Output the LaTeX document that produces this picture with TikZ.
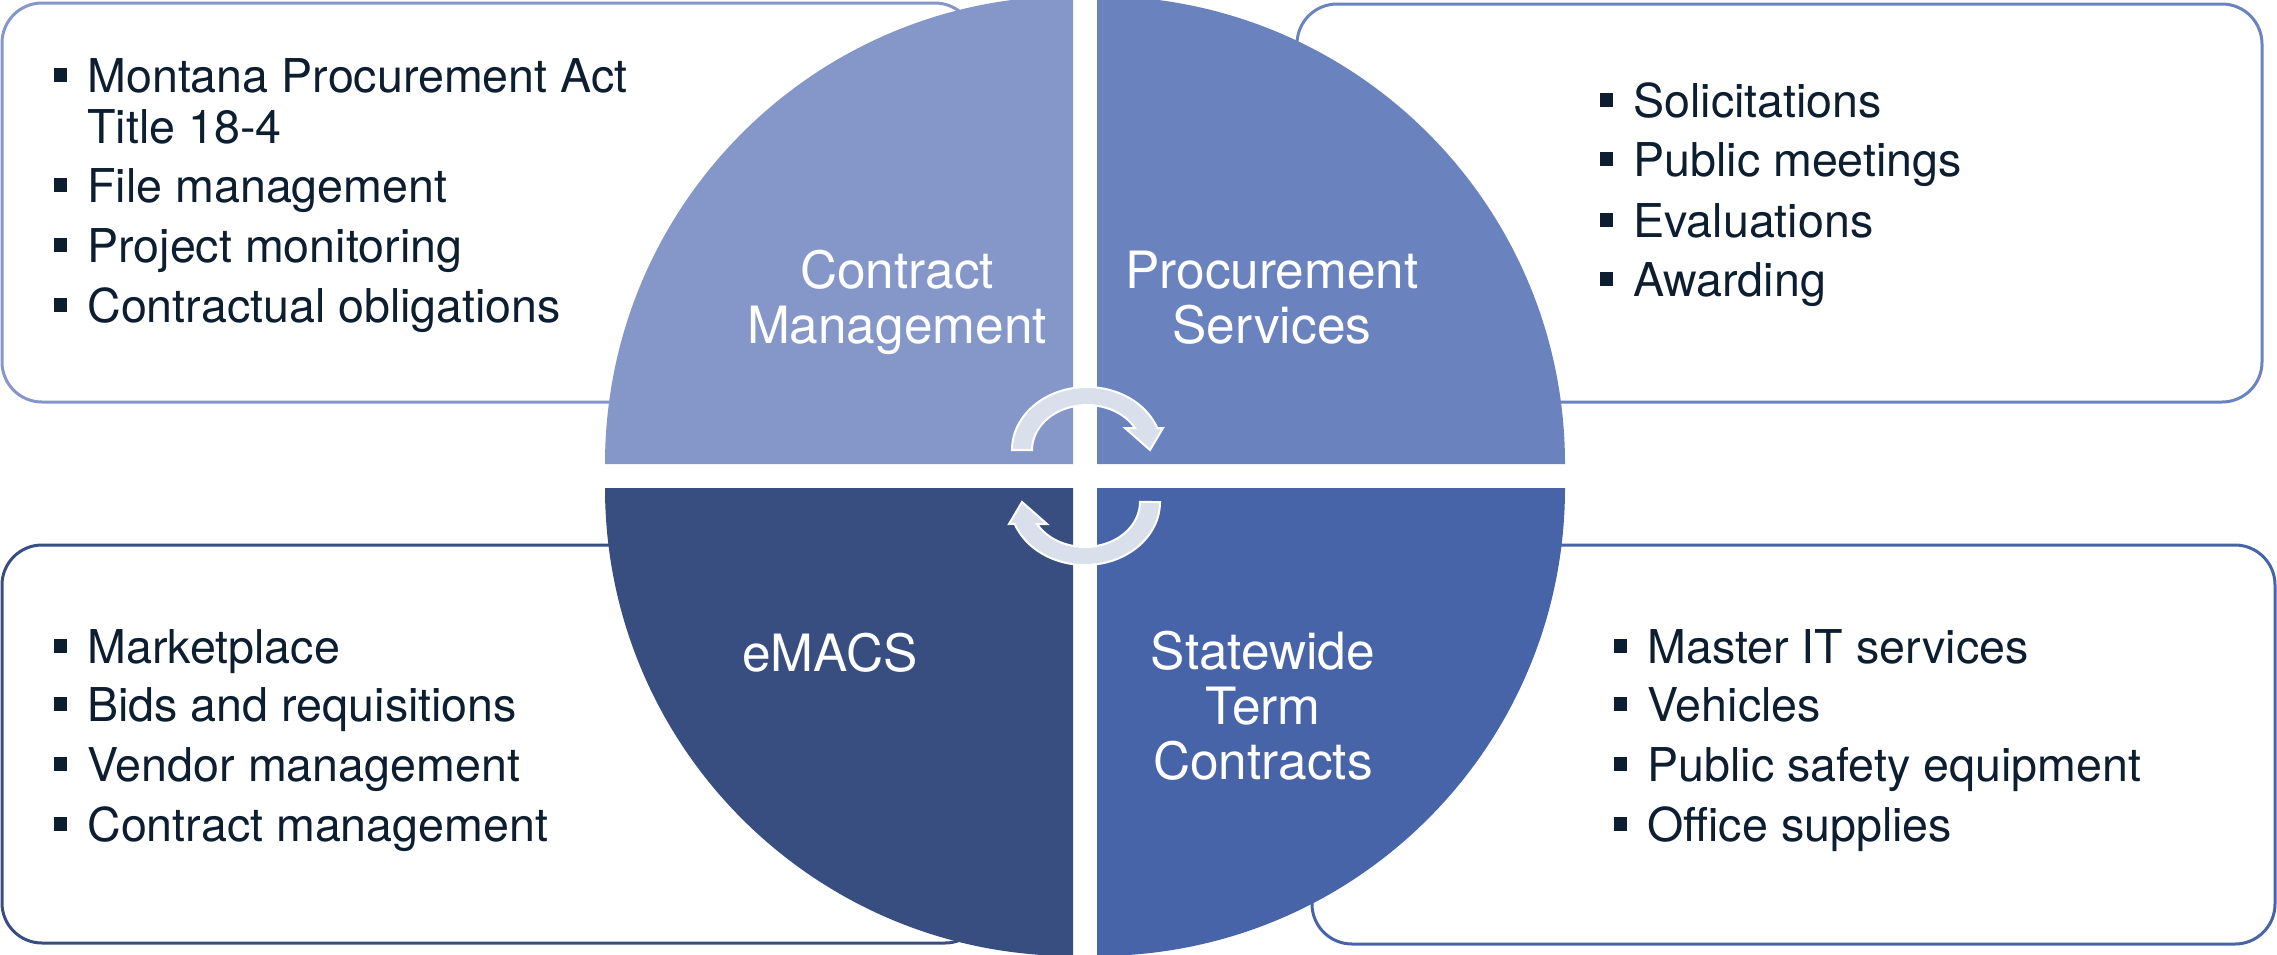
\documentclass[tikz,border=0pt]{standalone}
\usepackage{fontspec}
\setmainfont{TeX Gyre Heros}
\definecolor{qtl}{RGB}{132,151,200}
\definecolor{qtr}{RGB}{106,130,190}
\definecolor{qbl}{RGB}{57,78,128}
\definecolor{qbr}{RGB}{72,100,168}
\definecolor{txt}{RGB}{12,30,48}
\definecolor{arr}{RGB}{217,223,235}
\newcommand\bulsq{\llap{\rule[5pt]{6.8pt}{6.8pt}\hspace{10pt}}}
\begin{document}
\begin{tikzpicture}[x=0.5pt,y=-0.5pt,
  infobox/.style={line width=1.5pt, fill=white, rounded corners=20pt},
  item/.style={anchor=base west, inner sep=0pt, text=txt, font=\fontsize{23.3}{25.5}\selectfont},
  qlabel/.style={anchor=base, inner sep=0pt, text=white, font=\fontsize{25.7}{27.5}\selectfont},
  cyc/.style={fill=arr, draw=white, line width=1pt, line join=miter}
]
\useasboundingbox (0,0) rectangle (2277,954);

% text boxes
\draw[infobox, draw=qtl] (2,3) rectangle (975,402);
\draw[infobox, draw=qtr] (1297,4) rectangle (2262,402);
\draw[infobox, draw=qbl] (2,545) rectangle (985,943);
\draw[infobox, draw=qbr] (1312,545) rectangle (2275,944);

% pie quadrants
\fill[qtl] (1073,464) -- (605,464) arc[start angle=180, end angle=270, radius=468] -- cycle;
\fill[qtr] (1097,464) -- (1097,-4) arc[start angle=270, end angle=360, radius=468] -- cycle;
\fill[qbr] (1097,488) -- (1565,488) arc[start angle=0, end angle=90, radius=468] -- cycle;
\fill[qbl] (1073,488) -- (1073,956) arc[start angle=90, end angle=180, radius=468] -- cycle;

% circular arrows
\path[cyc] (1012,450) arc[start angle=180, end angle=339.6, x radius=75, y radius=63]
  -- (1163,428) -- (1150,450) -- (1125,428) -- (1135,428)
  arc[start angle=330.7, end angle=180, x radius=55, y radius=45] -- cycle;
\path[cyc, rotate around={180:(1086,476)}] (1012,450) arc[start angle=180, end angle=339.6, x radius=75, y radius=63]
  -- (1163,428) -- (1150,450) -- (1125,428) -- (1135,428)
  arc[start angle=330.7, end angle=180, x radius=55, y radius=45] -- cycle;

% quadrant labels
\node[qlabel] (cm1) at (897,288) {Contract};
\node[qlabel] (cm2) at (897,343) {Management};
\node[qlabel] (ps1) at (1272,288) {Procurement};
\node[qlabel] (ps2) at (1272,343) {Services};
\node[qlabel] (em) at (830,671) {eMACS};
\node[qlabel] (st1) at (1263,669) {Statewide};
\node[qlabel] (st2) at (1263,724) {Term};
\node[qlabel] (st3) at (1263,779) {Contracts};

% top-left list
\node[item] (tl1) at (87,92) {\bulsq Montana Procurement Act};
\node[item] (tl1b) at (87,143) {Title 18-4};
\node[item] (tl2) at (87,202) {\bulsq File management};
\node[item] (tl3) at (87,262) {\bulsq Project monitoring};
\node[item] (tl4) at (87,322) {\bulsq Contractual obligations};

% top-right list
\node[item] (tr1) at (1633,117) {\bulsq Solicitations};
\node[item] (tr2) at (1633,176) {\bulsq Public meetings};
\node[item] (tr3) at (1633,237) {\bulsq Evaluations};
\node[item] (tr4) at (1633,296) {\bulsq Awarding};

% bottom-left list
\node[item] (bl1) at (87,663) {\bulsq Marketplace};
\node[item] (bl2) at (87,721) {\bulsq Bids and requisitions};
\node[item] (bl3) at (87,781) {\bulsq Vendor management};
\node[item] (bl4) at (87,841) {\bulsq Contract management};

% bottom-right list
\node[item] (br1) at (1647,663) {\bulsq Master IT services};
\node[item] (br2) at (1647,721) {\bulsq Vehicles};
\node[item] (br3) at (1647,781) {\bulsq Public safety equipment};
\node[item] (br4) at (1647,841) {\bulsq Office supplies};
\end{tikzpicture}
\end{document}
